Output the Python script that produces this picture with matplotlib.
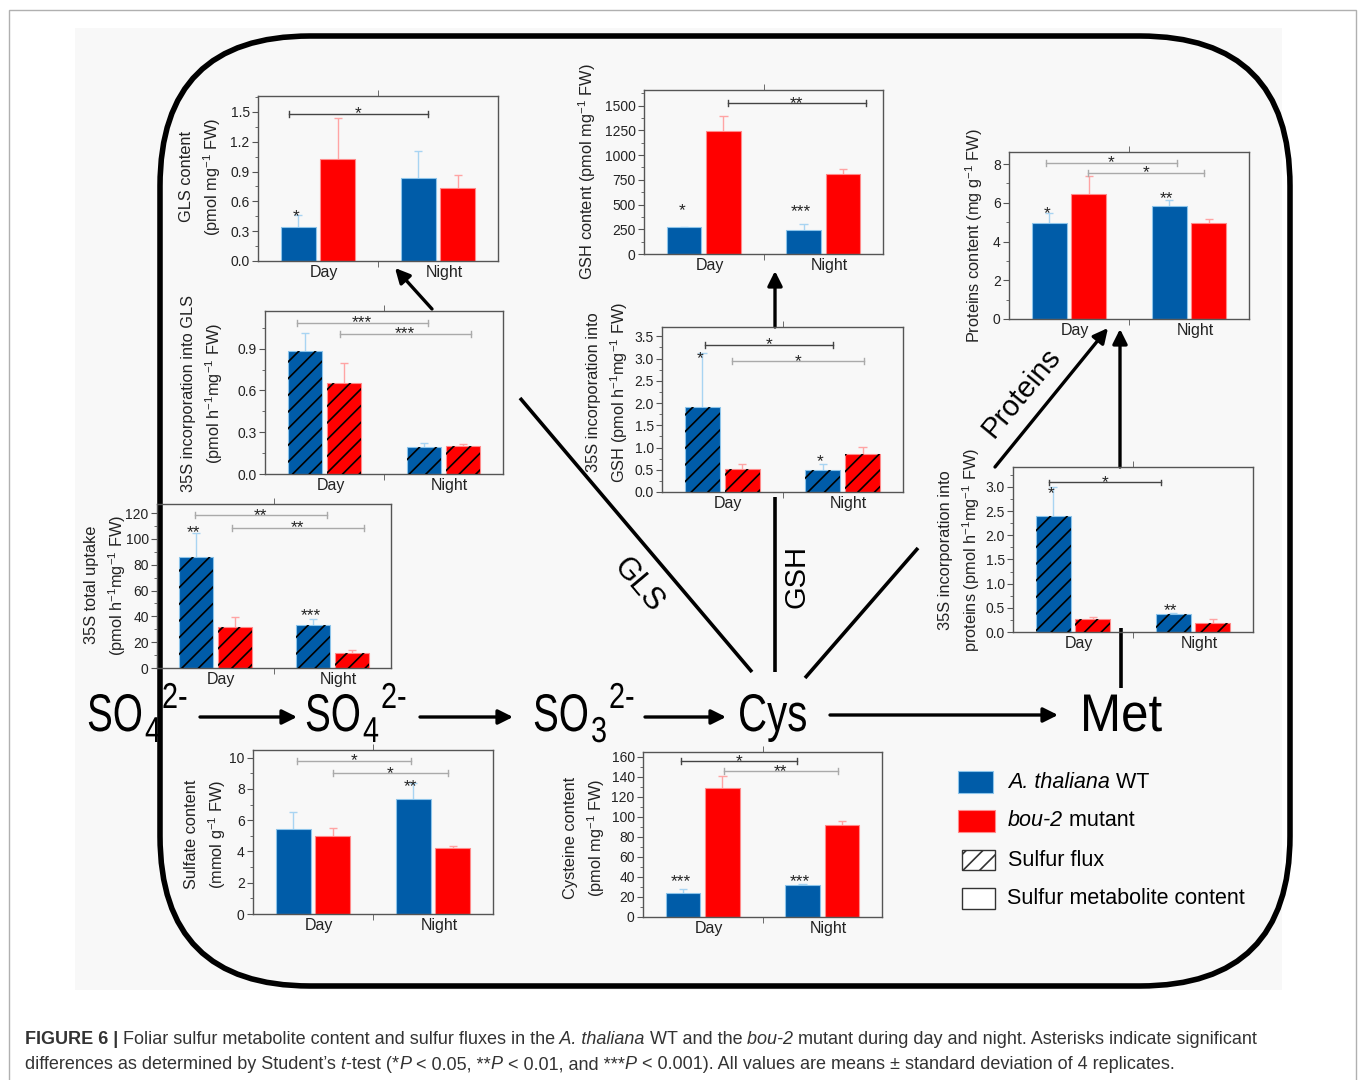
import numpy as np
import matplotlib
matplotlib.use('Agg')
import matplotlib.pyplot as plt
from matplotlib.patches import FancyBboxPatch, Rectangle, PathPatch
from matplotlib.ticker import MultipleLocator, FormatStrFormatter
from matplotlib.textpath import TextPath
from matplotlib.font_manager import FontProperties
from matplotlib.transforms import Affine2D

W, H = 1358, 1080

plt.rcParams['font.family'] = ['Liberation Sans', 'DejaVu Sans']
plt.rcParams['mathtext.default'] = 'regular'
plt.rcParams['hatch.linewidth'] = 1.2

groups = ['Day', 'Night']
blue, red = '#005ca8', '#ff0000'

# GLS content
gls_wt, gls_wt_err = [0.34, 0.837], [0.12, 0.273]
gls_bou, gls_bou_err = [1.025, 0.73], [0.415, 0.14]
# 35S incorporation into GLS
glsf_wt, glsf_wt_err = [0.881, 0.191], [0.134, 0.029]
glsf_bou, glsf_bou_err = [0.654, 0.203], [0.146, 0.01]
# 35S total uptake
upt_wt, upt_wt_err = [85.8, 33.0], [18.4, 4.6]
upt_bou, upt_bou_err = [31.6, 12.0], [7.6, 1.8]
# sulfate content
sul_wt, sul_wt_err = [5.46, 7.38], [1.07, 0.98]
sul_bou, sul_bou_err = [5.01, 4.2], [0.47, 0.15]
# GSH content
gsh_wt, gsh_wt_err = [270, 246], [6, 54]
gsh_bou, gsh_bou_err = [1244, 806], [154, 53]
# 35S incorporation into GSH
gshf_wt, gshf_wt_err = [1.91, 0.49], [1.21, 0.135]
gshf_bou, gshf_bou_err = [0.51, 0.845], [0.13, 0.175]
# cysteine content
cys_wt, cys_wt_err = [24.3, 32.3], [4.0, 0.3]
cys_bou, cys_bou_err = [129, 92], [12, 4]
# proteins content
pro_wt, pro_wt_err = [4.95, 5.85], [0.52, 0.29]
pro_bou, pro_bou_err = [6.45, 4.98], [0.95, 0.19]
# 35S incorporation into proteins
prof_wt, prof_wt_err = [2.40, 0.38], [0.60, 0.02]
prof_bou, prof_bou_err = [0.26, 0.19], [0.05, 0.08]

fig = plt.figure(figsize=(W / 100, H / 100), dpi=100)
bg = fig.add_axes([0, 0, 1, 1])
bg.set_xlim(0, W)
bg.set_ylim(H, 0)
bg.axis('off')

bg.add_patch(Rectangle((9, 10), 1347, 1080, fc='white', ec='#b0b0b0', lw=1))
bg.add_patch(Rectangle((75, 28), 1207, 962, fc='#f8f8f8', ec='none'))
bg.add_patch(FancyBboxPatch((160, 36), 1130, 950, boxstyle='round,pad=0,rounding_size=150',
                            fc='none', ec='black', lw=4))


def px_axes(l, t, r, b):
    return fig.add_axes([l / W, 1 - b / H, (r - l) / W, (b - t) / H], facecolor='none')


def panel(box, top, tmax, step, minor, fmt, wt, wt_err, bou, bou_err, hatched,
          ylabel, lab, marks, brackets):
    ax = px_axes(*box)
    x = np.arange(len(groups))
    off, w = 0.165, 0.29
    for dx, v, e, fc, ec, lc in [(-off, wt, wt_err, blue, '#8cc4ea', '#a8d4f2'),
                                 (off, bou, bou_err, red, '#ff8a8a', '#ffa4a4')]:
        ax.bar(x + dx, v, w, color=fc, edgecolor=ec, linewidth=0.8, zorder=2)
        if hatched:
            ax.bar(x + dx, v, w, fill=False, edgecolor='black', hatch='//', linewidth=0, zorder=3)
        te = np.array(v) + np.array(e)
        ax.vlines(x + dx, v, te, color=lc, lw=1, zorder=1)
        ax.hlines(te, x + dx - 0.035, x + dx + 0.035, color=lc, lw=1, zorder=1)
    for g, s, y in marks:
        ax.annotate(s, (g - off - 0.02, y), xytext=(0, -3), textcoords='offset points',
                    ha='center', va='center', fontsize=12.5, color='#222')
    tk = 0.018 * top
    for x0, x1, y, s, c in brackets:
        col = '#444444' if c == 'dark' else '#aaaaaa'
        ax.plot([x0, x1], [y, y], color=col, lw=1)
        ax.plot([x0, x0], [y - tk, y + tk], color=col, lw=1)
        ax.plot([x1, x1], [y - tk, y + tk], color=col, lw=1)
        ax.text((x0 + x1) / 2, y, s, ha='center', va='center', fontsize=12.5, color='#222')
    ax.set_xlim(-0.5, 1.5)
    ax.set_ylim(0, top)
    ax.set_yticks(np.arange(0, tmax + step / 2, step))
    ax.yaxis.set_minor_locator(MultipleLocator(minor))
    ax.yaxis.set_major_formatter(FormatStrFormatter(fmt))
    ax.set_xticks([0.05, 1.05])
    ax.set_xticklabels(groups)
    ax.set_xticks([0.5], minor=True)
    ax.tick_params(axis='x', which='major', length=0, pad=3, labelsize=11.5, colors='#222')
    ax.tick_params(axis='x', which='minor', length=4, top=True, bottom=True,
                   direction='out', color='#555')
    ax.tick_params(axis='y', which='both', direction='out', color='#555',
                   labelsize=10, pad=2, labelcolor='#222')
    ax.tick_params(axis='y', which='major', length=4)
    ax.tick_params(axis='y', which='minor', length=2.5)
    for sp in ax.spines.values():
        sp.set_color('#555555')
        sp.set_linewidth(1)
    l, t, r, b = box
    ax.set_ylabel(ylabel, fontsize=11.8, linespacing=1.45, color='#222')
    ax.yaxis.set_label_coords((lab[0] - l) / (r - l), (b - lab[1]) / (b - t))
    return ax


panel((258, 96, 498, 261), 1.661, 1.5, 0.3, 0.15, '%.1f',
      gls_wt, gls_wt_err, gls_bou, gls_bou_err, False,
      'GLS content\n(pmol mg$^{-1}$ FW)', (223, 177),
      [(0, '*', 0.49)],
      [(-0.24, 0.914, 1.48, '*', 'dark')])

panel((265, 311, 503, 474), 1.17, 0.9, 0.3, 0.15, '%.1f',
      glsf_wt, glsf_wt_err, glsf_bou, glsf_bou_err, True,
      '35S incorporation into GLS\n(pmol h$^{-1}$mg$^{-1}$ FW)', (225, 393),
      [],
      [(-0.234, 0.867, 1.084, '***', 'light'), (0.13, 1.228, 1.005, '***', 'light')])

panel((157, 504, 391, 668), 127, 120, 20, 10, '%d',
      upt_wt, upt_wt_err, upt_bou, upt_bou_err, True,
      '35S total uptake\n(pmol h$^{-1}$mg$^{-1}$ FW)', (128, 585),
      [(0, '**', 108), (1, '***', 43.5)],
      [(-0.179, 0.953, 118.2, '**', 'light'), (0.141, 1.266, 108.4, '**', 'light')])

panel((253, 750, 493, 914), 10.49, 10, 2, 1, '%d',
      sul_wt, sul_wt_err, sul_bou, sul_bou_err, False,
      'Sulfate content\n(mmol g$^{-1}$ FW)', (228, 834),
      [(1, '**', 8.4)],
      [(-0.133, 0.817, 9.79, '*', 'light'), (0.163, 1.122, 9.0, '*', 'light')])

panel((644, 90, 883, 254), 1658, 1500, 250, 125, '%d',
      gsh_wt, gsh_wt_err, gsh_bou, gsh_bou_err, False,
      'GSH content (pmol mg$^{-1}$ FW)', (598, 172),
      [(0, '*', 478), (1, '***', 468)],
      [(0.2, 1.36, 1524, '**', 'dark')])

panel((662, 327, 903, 492), 3.71, 3.5, 0.5, 0.25, '%.1f',
      gshf_wt, gshf_wt_err, gshf_bou, gshf_bou_err, True,
      '35S incorporation into\nGSH (pmol h$^{-1}$mg$^{-1}$ FW)', (630, 392),
      [(0, '*', 3.10), (1, '*', 0.78)],
      [(-0.142, 0.92, 3.31, '*', 'dark'), (0.084, 1.177, 2.94, '*', 'light')])

panel((643, 752, 882, 917), 165, 160, 20, 10, '%d',
      cys_wt, cys_wt_err, cys_bou, cys_bou_err, False,
      'Cysteine content\n(pmol mg$^{-1}$ FW)', (607, 838),
      [(0, '***', 39.4), (1, '***', 39.4)],
      [(-0.18, 0.789, 155.7, '*', 'dark'), (0.174, 1.128, 145.7, '**', 'light')])

panel((1009, 152, 1249, 319), 8.62, 8, 2, 1, '%d',
      pro_wt, pro_wt_err, pro_bou, pro_bou_err, False,
      'Proteins content (mg g$^{-1}$ FW)', (985, 236),
      [(0, '*', 5.67), (1, '**', 6.41)],
      [(-0.194, 0.9, 8.05, '*', 'light'), (0.158, 1.125, 7.54, '*', 'light')])

panel((1013, 467, 1253, 632), 3.41, 3.0, 0.5, 0.25, '%.1f',
      prof_wt, prof_wt_err, prof_bou, prof_bou_err, True,
      '35S incorporation into\nproteins (pmol h$^{-1}$mg$^{-1}$ FW)', (982, 550),
      [(0, '*', 2.95), (1, '**', 0.53)],
      [(-0.204, 0.732, 3.09, '*', 'dark')])

# pathway arrows and lines
arr = dict(arrowstyle='-|>', lw=2.4, color='black', mutation_scale=22, shrinkA=0, shrinkB=0)
for tail, head in [((200, 717), (297, 717)), ((420, 717), (513, 717)),
                   ((645, 717), (726, 717)), ((830, 715), (1058, 715)),
                   ((432, 309), (395, 268)), ((775, 327), (775, 271)),
                   ((995, 467), (1108, 328)), ((1120, 467), (1120, 329))]:
    bg.annotate('', xy=head, xytext=tail, arrowprops=arr)
for (x0, y0), (x1, y1) in [((520, 398), (752, 672)), ((775, 672), (775, 497)),
                           ((805, 678), (918, 548)), ((1121, 628), (1121, 688))]:
    bg.plot([x0, x1], [y0, y1], color='black', lw=2.6, solid_capstyle='butt')

bg.text(638, 585, 'GLS', rotation=-50, ha='center', va='center', fontsize=22)
bg.text(797, 577, 'GSH', rotation=90, ha='center', va='center', fontsize=21)
bg.text(1021, 393, 'Proteins', rotation=50.5, ha='center', va='center', fontsize=21)

# metabolite names, drawn as squeezed outlines (narrow face)
chem_font = FontProperties(family='Liberation Sans')
for x, y, s, size, sx in [(87, 731, 'SO', 53, 0.73), (145, 742, '4', 36, 0.8), (162, 708, '2-', 36, 0.8),
                          (305, 731, 'SO', 53, 0.73), (363, 742, '4', 36, 0.8), (381, 708, '2-', 36, 0.8),
                          (533, 731, 'SO', 53, 0.73), (591, 742, '3', 36, 0.8), (609, 708, '2-', 36, 0.8),
                          (738, 731, 'Cys', 53, 0.76), (1080, 731, 'Met', 53, 0.93)]:
    tp = TextPath((0, 0), s, size=size, prop=chem_font)
    tr = Affine2D().scale(sx, -1).translate(x, y)
    bg.add_patch(PathPatch(tr.transform_path(tp), fc='black', ec='none'))

# legend
bg.add_patch(Rectangle((958, 771), 35, 22, fc=blue, ec='#8cc4ea', lw=0.8))
bg.add_patch(Rectangle((958, 810), 37, 22, fc=red, ec='#ff8a8a', lw=0.8))
bg.add_patch(Rectangle((962, 850), 33, 20, fc='white', ec='#333333', lw=1, hatch='//'))
bg.add_patch(Rectangle((962, 888), 33, 21, fc='white', ec='#333333', lw=1))
t = bg.text(1008, 783, 'A. thaliana', style='italic', fontsize=15.5, va='center')
bg.annotate(' WT', xy=(1, 0), xycoords=t, va='bottom', fontsize=15.5)
t = bg.text(1008, 820, 'bou-2', style='italic', fontsize=15.5, va='center')
bg.annotate(' mutant', xy=(1, 0), xycoords=t, va='bottom', fontsize=15.5)
bg.text(1008, 860, 'Sulfur flux', fontsize=15.5, va='center')
bg.text(1007, 898, 'Sulfur metabolite content', fontsize=15.5, va='center')

# caption
cap_size = 13
lines = [
    (1044, [('FIGURE 6 |', 'bold'), (' Foliar sulfur metabolite content and sulfur fluxes in the', 'normal'),
            (' A. thaliana', 'italic'), (' WT and the', 'normal'), (' bou-2', 'italic'),
            (' mutant during day and night. Asterisks indicate significant', 'normal')]),
    (1069, [('differences as determined by Student\u2019s', 'normal'), (' t', 'italic'),
            ('-test (*', 'normal'), ('P', 'italic'), (' < 0.05, **', 'normal'), ('P', 'italic'),
            (' < 0.01, and ***', 'normal'), ('P', 'italic'),
            (' < 0.001). All values are means \u00b1 standard deviation of 4 replicates.', 'normal')]),
]
for y, parts in lines:
    prev = None
    for s, st in parts:
        kw = dict(fontsize=cap_size, color='#333333')
        if st == 'bold':
            kw['weight'] = 'bold'
        elif st == 'italic':
            kw['style'] = 'italic'
        if prev is None:
            prev = bg.text(25, y, s, va='baseline', ha='left', **kw)
        else:
            prev = bg.annotate(s, xy=(1, 0), xycoords=prev, va='bottom', ha='left', **kw)

fig.savefig('out.png', dpi=100)
